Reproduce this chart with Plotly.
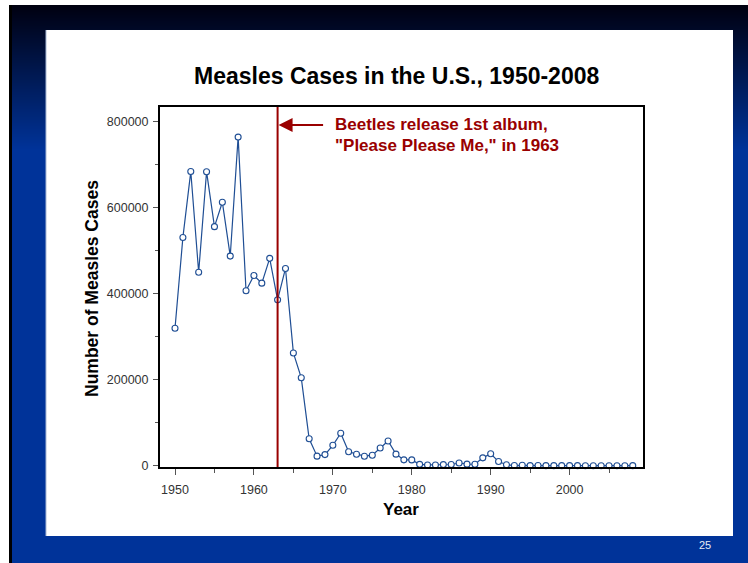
import plotly.graph_objects as go

# Reported measles cases in the U.S., 1950-2008
years = list(range(1950, 2009))
cases = [
    319124, 530118, 683077, 449146, 682720, 555156, 611936, 486799, 763094, 406162,
    441703, 423919, 481530, 385156, 458083, 261904, 204136, 62705, 22231, 25826,
    47351, 75290, 32275, 26690, 22094, 24374, 41126, 57345, 26871, 13597,
    13506, 3124, 1714, 1497, 2587, 2822, 6282, 3655, 3396, 18193,
    27786, 9643, 2237, 312, 963, 309, 508, 138, 100, 100,
    86, 116, 44, 56, 37, 66, 55, 43, 140,
]

event_year = 1963
event_lines = ["Beetles release 1st album,", "\"Please Please Me,\" in 1963"]
chart_title = "Measles Cases in the U.S., 1950-2008"
x_title = "Year"
y_title = "Number of Measles Cases"
slide_number = "25"

W, H = 748, 563
ML, MR, MT, MB = 160, 105, 107, 96
PW, PH = W - ML - MR, H - MT - MB

FONT = "Liberation Sans, Arial, sans-serif"
LINE_BLUE = "#1f4e94"
DARK_RED = "#990000"


def px_x(p):
    return (p - ML) / PW


def px_y(p):
    return (H - MB - p) / PH


def rect(x0, y0, x1, y1, color):
    return dict(type="rect", xref="paper", yref="paper", layer="below",
                x0=px_x(x0), x1=px_x(x1), y0=px_y(y1), y1=px_y(y0),
                fillcolor=color, line=dict(width=0))


shapes = []
# slide background: dark-to-blue vertical gradient, one band per pixel row
top, grad_end = 5, 150
c0, c1 = (0, 0, 16), (0, 51, 153)
for i in range(grad_end - top):
    t = (i + 0.5) / (grad_end - top)
    col = "rgb({},{},{})".format(*[round(a + (b - a) * t) for a, b in zip(c0, c1)])
    shapes.append(rect(9, top + i, W + 1, top + i + 1.5, col))
shapes.append(rect(9, grad_end, W + 1, H + 1, "rgb(0,51,153)"))
shapes.append(rect(9, 5, 12, H + 1, "#000000"))
# white content panel
shapes.append(rect(46, 30, 733, 536, "#ffffff"))
shapes.append(rect(45.5, 30, 46.5, 536, "#a9b9d6"))

# event marker line
shapes.append(dict(type="line", xref="x", yref="paper", x0=event_year, x1=event_year,
                   y0=0, y1=1, line=dict(color=DARK_RED, width=2), layer="above"))

fig = go.Figure()
fig.add_trace(go.Scatter(
    x=years, y=cases, mode="lines+markers",
    line=dict(color=LINE_BLUE, width=1.2),
    marker=dict(symbol="circle", size=6, color="white",
                line=dict(color=LINE_BLUE, width=1.1)),
    cliponaxis=False, showlegend=False,
))

annotations = [
    dict(text="<b>" + chart_title + "</b>", xref="paper", yref="paper",
         x=px_x(396), y=px_y(76), xanchor="center", yanchor="middle",
         showarrow=False, font=dict(size=23, color="#000000", family=FONT)),
    dict(text="<b>" + x_title + "</b>", xref="paper", yref="paper",
         x=px_x(401), y=px_y(509), xanchor="center", yanchor="middle",
         showarrow=False, font=dict(size=17, color="#000000", family=FONT)),
    dict(text="<b>" + y_title + "</b>", xref="paper", yref="paper",
         x=px_x(92), y=px_y(289), xanchor="center", yanchor="middle", textangle=-90,
         showarrow=False, font=dict(size=17.5, color="#000000", family=FONT)),
    dict(text=slide_number, xref="paper", yref="paper",
         x=px_x(705), y=px_y(545), xanchor="center", yanchor="middle",
         showarrow=False, font=dict(size=11, color="#e6ebf5", family=FONT)),
    # arrow pointing at the event line
    dict(text="", x=event_year, y=791000, xref="x", yref="y",
         ax=47, ay=0, axref="pixel", ayref="pixel", showarrow=True,
         arrowhead=2, arrowsize=1.4, arrowwidth=2, arrowcolor=DARK_RED,
         standoff=1),
]
for i, line in enumerate(event_lines):
    annotations.append(dict(
        text="<b>" + line + "</b>", xref="paper", yref="paper",
        x=px_x(333), y=px_y(124 + 21 * i), xanchor="left", yanchor="middle",
        showarrow=False, font=dict(size=17, color=DARK_RED, family=FONT)))

fig.update_layout(
    width=W, height=H,
    margin=dict(l=ML, r=MR, t=MT, b=MB, pad=0),
    paper_bgcolor="white", plot_bgcolor="white",
    font=dict(family=FONT, size=12.5, color="#333333"),
    shapes=shapes, annotations=annotations,
    xaxis=dict(range=[1948.1, 2009.3], tick0=1950, dtick=10,
               ticks="outside", ticklen=6, tickwidth=1, tickcolor="#555555",
               minor=dict(dtick=5, tick0=1950, ticks="outside", ticklen=4,
                          tickwidth=1, tickcolor="#555555"),
               showline=True, linewidth=2, linecolor="black", mirror=True,
               showgrid=False, zeroline=False, ticklabelstandoff=4,
               tickfont=dict(size=12.5, color="#333333")),
    yaxis=dict(range=[-3000, 833000], tick0=0, dtick=200000, tickformat="d",
               ticks="outside", ticklen=5, tickwidth=1, tickcolor="#555555",
               minor=dict(dtick=100000, ticks="outside", ticklen=3,
                          tickwidth=1, tickcolor="#555555"),
               showline=True, linewidth=2, linecolor="black", mirror=True,
               showgrid=False, zeroline=False, ticklabelstandoff=2,
               tickfont=dict(size=12.5, color="#333333")),
)

fig.write_html("out.html")
